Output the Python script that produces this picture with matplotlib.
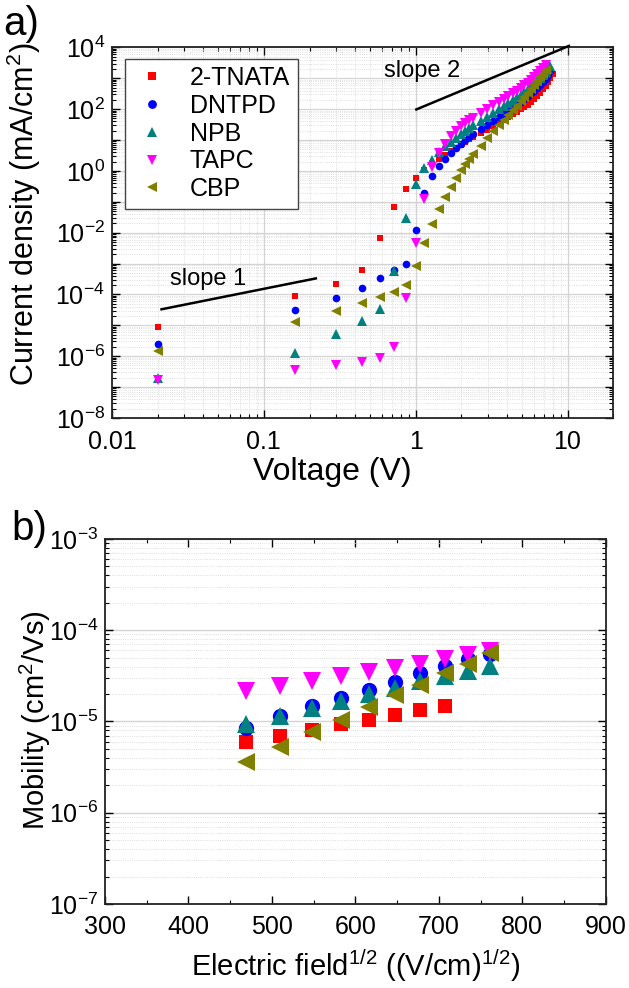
import numpy as np
import matplotlib
matplotlib.use("Agg")
import matplotlib.pyplot as plt
from matplotlib import ticker

plt.rcParams['font.family'] = ['Liberation Sans', 'DejaVu Sans']
plt.rcParams['mathtext.default'] = 'regular'

# --- data (a) : J-V curves ---
voltage = [0.02, 0.16, 0.30, 0.44, 0.58, 0.72, 0.86, 1.00, 1.14, 1.28,
           1.42, 1.56, 1.70, 1.84, 1.98, 2.12, 2.26, 2.40, 2.68, 2.96,
           3.24, 3.52, 3.80, 4.08, 4.36, 4.64, 4.92, 5.20, 5.48, 5.76,
           6.04, 6.32, 6.60, 6.88, 7.16, 7.44, 7.72, 8.00]

j_tnata = [9e-6, 9e-5, 2.2e-4, 6.2e-4, 6.6e-3, 6.8e-2, 0.26, 0.59, 1.1, 1.7,
           2.5, 3.2, 4.4, 5.6, 7.1, 8.7, 10.5, 12.3, 16.6, 21.9,
           28.2, 35.5, 43.7, 56, 68, 81, 98, 117, 141, 174,
           214, 269, 339, 437, 575, 759, 1020, 1380]
j_dntpd = [2.5e-6, 3.2e-5, 7.8e-5, 1.65e-4, 3.3e-4, 6.2e-4, 1.0e-3, 1.2e-2, 0.195, 0.7,
           1.48, 2.45, 3.8, 5.5, 7.6, 10, 12.6, 15.5, 22.4, 31.6,
           42.7, 56, 72, 91, 115, 141, 174, 214, 263, 324,
           398, 490, 603, 759, 955, 1260, 1740]
j_npb = [1.95e-7, 1.3e-6, 5.1e-6, 1.4e-5, 3.5e-5, 5.9e-4, 0.03, 0.39, 1.26, 2.3,
         4.1, 6.3, 8.9, 12, 15.8, 20, 24.5, 30.2, 41.7, 57.5,
         77.6, 100, 126, 158, 195, 240, 295, 363, 447, 550,
         676, 832, 1020, 1290, 1580, 2000, 2510]
j_tapc = [1.7e-7, 3.7e-7, 5.3e-7, 6.7e-7, 8.7e-7, 2.0e-6, 7.4e-5, 4.5e-3, 0.126, 1.3,
          3.8, 7.6, 13.2, 20, 28.2, 36.3, 44.7, 53.7, 74, 100,
          132, 170, 214, 263, 324, 398, 490, 589, 724, 891,
          1100, 1350, 1700, 2140, 2630]
j_cbp = [1.5e-6, 1.3e-5, 3.0e-5, 5.1e-5, 8.1e-5, 1.18e-4, 2.0e-4, 8.5e-4, 4.8e-3, 1.9e-2,
         0.057, 0.145, 0.30, 0.58, 1.05, 1.66, 2.5, 3.55, 6.6, 11.5,
         19, 30, 46, 66, 93, 129, 178, 245, 331, 447,
         603, 813, 1070, 1410, 1900]

# --- data (b) : mobility ---
field = [469, 510, 548, 583, 616, 648, 678, 707, 735, 761]
mu_tnata = [5.9e-6, 7.0e-6, 8.0e-6, 9.3e-6, 1.03e-5, 1.17e-5, 1.33e-5, 1.47e-5]
mu_dntpd = [8.5e-6, 1.15e-5, 1.48e-5, 1.82e-5, 2.23e-5, 2.68e-5, 3.37e-5, 4.05e-5, 4.8e-5, 5.55e-5]
mu_npb = [9.3e-6, 1.15e-5, 1.41e-5, 1.66e-5, 1.98e-5, 2.35e-5, 2.76e-5, 3.14e-5, 3.56e-5, 4.05e-5]
mu_tapc = [2.15e-5, 2.44e-5, 2.77e-5, 3.13e-5, 3.47e-5, 3.87e-5, 4.3e-5, 4.85e-5, 5.4e-5, 5.9e-5]
mu_cbp = [3.6e-6, 5.2e-6, 7.6e-6, 1.05e-5, 1.45e-5, 1.93e-5, 2.54e-5, 3.36e-5, 4.3e-5, 5.6e-5]

names = ['2-TNATA', 'DNTPD', 'NPB', 'TAPC', 'CBP']
colors = ['#ff0000', '#0000ff', '#008080', '#ff00ff', '#808000']
markers = ['s', 'o', '^', 'v', '<']
ms_a = [4.8, 5.5, 6.8, 6.8, 6.8]
ms_b = [10, 11, 13, 13, 13]

fig = plt.figure(figsize=(6.29, 9.88), dpi=100)

# ---------------- panel a ----------------
ax = fig.add_axes([0.178, 0.577, 0.797, 0.375])
series_a = [j_tnata, j_dntpd, j_npb, j_tapc, j_cbp]
for name, c, m, s, j in zip(names, colors, markers, ms_a, series_a):
    ax.plot(voltage[:len(j)], j, ls='none', marker=m, color=c, ms=s,
            mew=0, label=name, zorder=3)

ax.set_xscale('log')
ax.set_yscale('log')
ax.set_xlim(0.01, 20)
ax.set_ylim(1e-8, 1e4)

# slope guide lines
ax.plot([0.0212, 0.22], [3.3e-5, 3.3e-4], color='k', lw=1.8, zorder=4)
ax.plot([1.01, 10.2], [98, 1.12e4], color='k', lw=1.8, zorder=4, clip_on=False)
ax.text(0.0428, 3.1e-4, 'slope 1', fontsize=17, ha='center', va='center')
ax.text(1.107, 1680, 'slope 2', fontsize=17, ha='center', va='center')

ax.yaxis.set_major_locator(ticker.LogLocator(base=10, numticks=20))
ax.yaxis.set_minor_locator(ticker.LogLocator(base=10, subs=np.arange(2, 10), numticks=20))
ax.xaxis.set_major_locator(ticker.LogLocator(base=10, numticks=20))
ax.xaxis.set_minor_locator(ticker.LogLocator(base=10, subs=np.arange(2, 10), numticks=20))


def even_decades(v, pos):
    e = int(round(np.log10(v)))
    return r'$10^{%d}$' % e if e % 2 == 0 else ''


ax.yaxis.set_major_formatter(ticker.FuncFormatter(even_decades))
ax.xaxis.set_major_formatter(ticker.FuncFormatter(lambda v, p: '%g' % v))

ax.grid(True, which='major', color='#d4d4d4', lw=0.9, ls='-')
ax.grid(True, which='minor', color='#d4d4d4', lw=0.6, ls=':')
ax.set_axisbelow(True)

ax.set_xlabel('Voltage (V)', fontsize=23)
ax.set_ylabel('Current density (mA/cm$^2$)', fontsize=22)
ax.xaxis.set_label_coords(0.439, -0.105)
ax.yaxis.set_label_coords(-0.137, 0.55)

leg = ax.legend(loc='upper left', bbox_to_anchor=(0.026, 0.970), borderaxespad=0,
                fontsize=18, frameon=True, fancybox=False, framealpha=1,
                edgecolor='#444444', handlelength=1.6, handletextpad=0.7,
                labelspacing=0.15, borderpad=0.3, numpoints=1, markerscale=1.15)
leg.get_frame().set_linewidth(1.0)

# ---------------- panel b ----------------
bx = fig.add_axes([0.167, 0.085, 0.796, 0.3695])
series_b = [mu_tnata, mu_dntpd, mu_npb, mu_tapc, mu_cbp]
for name, c, m, s, mu in zip(names, colors, markers, ms_b, series_b):
    bx.plot(field[:len(mu)], mu, ls='none', marker=m, color=c, ms=s,
            mew=0, zorder=3)

bx.set_yscale('log')
bx.set_xlim(300, 900)
bx.set_ylim(1e-7, 1e-3)
bx.xaxis.set_major_locator(ticker.MultipleLocator(100))
bx.xaxis.set_minor_locator(ticker.MultipleLocator(50))
bx.yaxis.set_major_locator(ticker.LogLocator(base=10, numticks=20))
bx.yaxis.set_minor_locator(ticker.LogLocator(base=10, subs=np.arange(2, 10), numticks=20))
bx.yaxis.set_major_formatter(ticker.FuncFormatter(lambda v, p: r'$10^{%d}$' % int(round(np.log10(v)))))

bx.grid(True, axis='y', which='major', color='#d4d4d4', lw=1.0, ls='-')
bx.grid(True, axis='y', which='minor', color='#d4d4d4', lw=0.6, ls=':')
bx.set_axisbelow(True)

bx.set_xlabel(r'Electric field$^{1/2}$ ((V/cm)$^{1/2}$)', fontsize=21)
bx.set_ylabel('Mobility (cm$^2$/Vs)', fontsize=21)
bx.xaxis.set_label_coords(0.5, -0.12)
bx.yaxis.set_label_coords(-0.104, 0.504)

for a in (ax, bx):
    a.tick_params(which='both', direction='in', top=True, right=True, labelsize=18)
    a.tick_params(which='major', length=6, width=1.0, pad=5)
    a.tick_params(which='minor', length=3, width=0.8)
    for sp in a.spines.values():
        sp.set_linewidth(1.3)
        sp.set_color('#222222')
ax.tick_params(axis='x', which='major', pad=9)
bx.tick_params(axis='x', which='major', pad=8)

fig.text(0.005, 0.976, 'a)', fontsize=29, ha='left', va='center')
fig.text(0.018, 0.465, 'b)', fontsize=29, ha='left', va='center')

fig.savefig('out.png', dpi=100)
